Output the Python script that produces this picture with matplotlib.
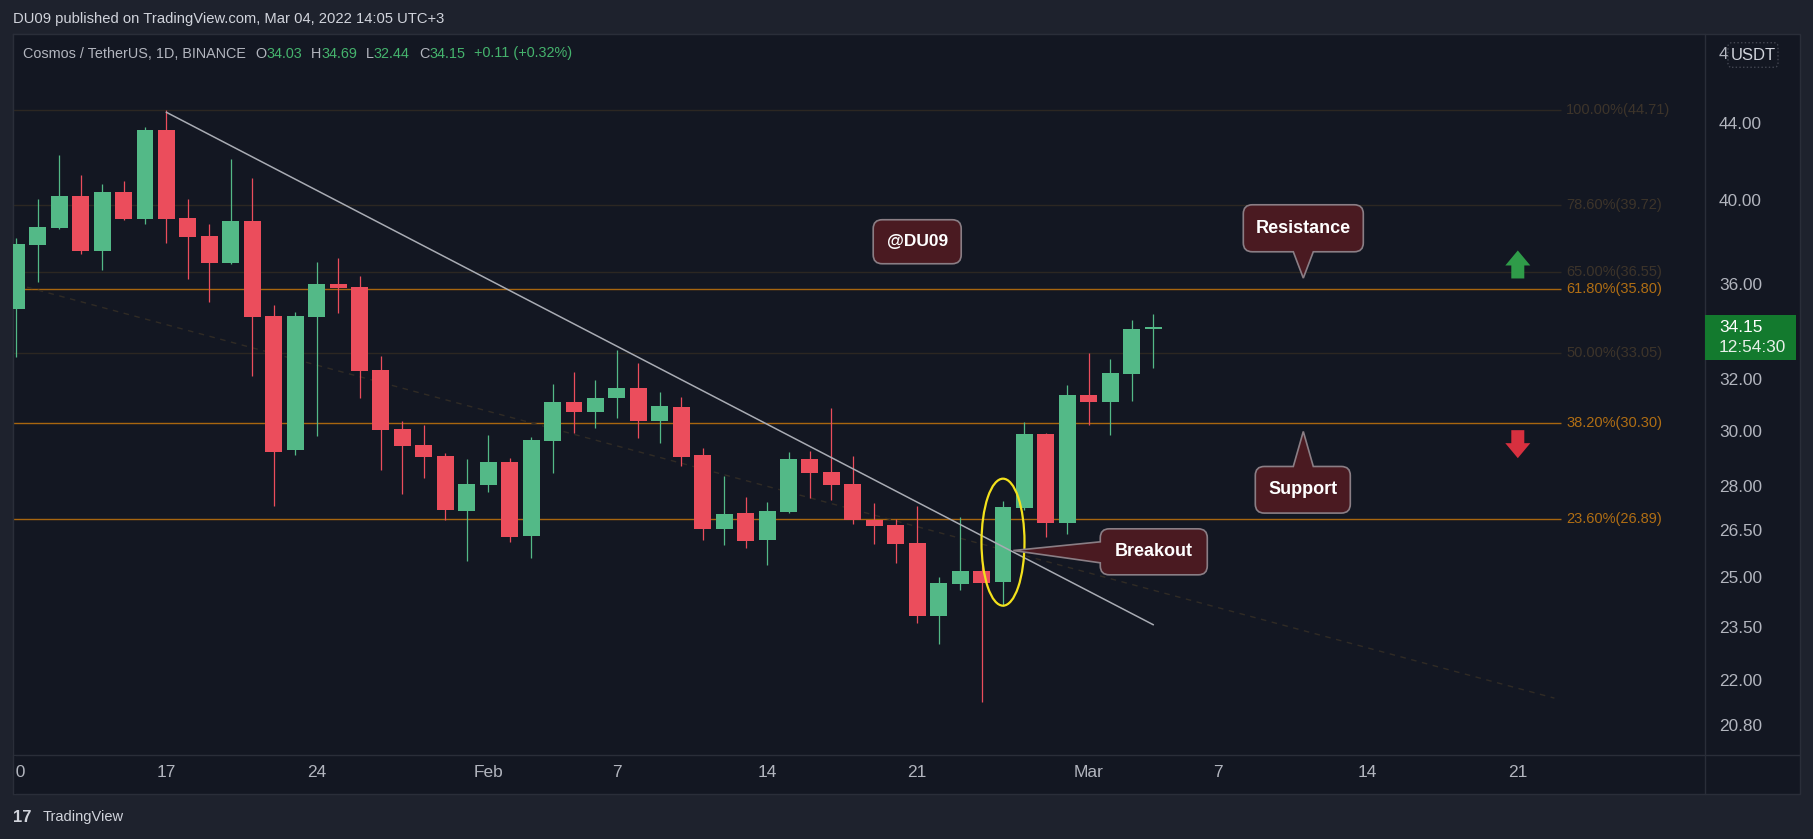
"""Cosmos / TetherUS daily candles with fib levels, trend line and callouts (TradingView style)."""
import matplotlib
matplotlib.use("Agg")
import matplotlib.pyplot as plt
import matplotlib.dates as mdates
from matplotlib.patches import Rectangle, Ellipse, Polygon, PathPatch, FancyBboxPatch
from matplotlib.path import Path
from matplotlib.transforms import IdentityTransform
from matplotlib.ticker import FuncFormatter, NullLocator
from matplotlib.lines import Line2D
import numpy as np
import pandas as pd

# ---- data ----
dates = pd.date_range("2022-01-10", "2022-03-04", freq="D")
opens = [34.92, 37.81, 38.62, 40.19, 37.53, 40.39, 39.06, 43.63, 39.11, 38.24,
         36.97, 38.95, 34.62, 29.27, 34.58, 36.02, 35.89, 32.36, 30.08, 29.47,
         29.07, 27.15, 28.04, 28.86, 26.31, 29.63, 31.10, 30.71, 31.25, 31.64,
         30.38, 30.91, 29.11, 26.55, 27.08, 26.19, 27.12, 28.97, 28.50, 28.08,
         26.85, 26.68, 26.09, 23.82, 24.79, 25.20, 24.85, 27.26, 29.88, 26.75,
         31.37, 31.10, 32.20, 34.03]
highs = [38.14, 40.04, 42.30, 41.26, 40.80, 40.95, 43.80, 44.71, 40.04, 38.82,
         42.09, 41.11, 35.10, 34.79, 37.02, 37.20, 36.38, 32.93, 30.38, 30.22,
         29.18, 28.97, 29.84, 29.01, 29.76, 31.80, 32.28, 31.96, 33.18, 32.65,
         31.48, 31.29, 29.37, 28.36, 27.63, 27.46, 29.22, 29.25, 30.86, 29.07,
         27.42, 26.88, 27.32, 25.01, 26.95, 25.54, 27.49, 30.33, 29.92, 31.76,
         33.05, 32.80, 34.44, 34.69]
lows = [32.90, 36.12, 38.57, 37.40, 36.66, 39.02, 38.82, 37.91, 36.25, 35.23,
        36.94, 32.13, 27.33, 29.12, 29.82, 34.74, 31.26, 28.58, 27.74, 28.30,
        26.85, 25.52, 27.80, 26.12, 25.61, 28.47, 29.92, 30.11, 30.48, 29.73,
        29.55, 28.72, 26.19, 26.02, 25.93, 25.38, 27.08, 27.59, 27.52, 26.72,
        26.06, 25.45, 23.61, 23.01, 24.61, 21.39, 24.12, 27.19, 26.28, 26.38,
        30.22, 29.84, 31.14, 32.44]
closes = [37.86, 38.67, 40.19, 37.53, 40.39, 39.06, 43.63, 39.06, 38.20, 36.97,
          38.95, 34.58, 29.23, 34.62, 36.02, 35.84, 32.32, 30.04, 29.45, 29.05,
          27.19, 28.08, 28.86, 26.28, 29.66, 31.10, 30.71, 31.25, 31.64, 30.38,
          30.95, 29.04, 26.55, 27.05, 26.15, 27.15, 28.97, 28.47, 28.04, 26.85,
          26.65, 26.06, 23.82, 24.82, 25.20, 24.82, 27.29, 29.88, 26.75, 31.37,
          31.10, 32.24, 34.06, 34.15]

fib_pcts = [100.0, 78.6, 65.0, 61.8, 50.0, 38.2, 23.6]
fib_prices = [44.71, 39.72, 36.55, 35.80, 33.05, 30.30, 26.89]
fib_hot = [False, False, False, True, False, True, True]
fib_end = pd.Timestamp("2022-03-23")

trend_dates = [pd.Timestamp("2022-01-17"), pd.Timestamp("2022-03-04")]
trend_prices = [44.60, 23.56]
chan_dates = [pd.Timestamp("2022-01-10"), pd.Timestamp("2022-03-22 17:00")]
chan_prices = [36.0, 21.50]

price_ticks = [20.8, 22.0, 23.5, 25.0, 26.5, 28.0, 30.0, 32.0, 36.0, 40.0, 44.0, 48.0]
tick_dates = pd.to_datetime(["2022-01-10", "2022-01-17", "2022-01-24", "2022-02-01",
                             "2022-02-07", "2022-02-14", "2022-02-21", "2022-03-01",
                             "2022-03-07", "2022-03-14", "2022-03-21"])
tick_labels = ["10", "17", "24", "Feb", "7", "14", "21", "Mar", "7", "14", "21"]

last_price = 34.15
countdown = "12:54:30"

# ---- style ----
W, H, DPI = 1813, 839, 100
OUTER = "#1e222d"
PANE = "#131722"
BORDER = "#2a2e39"
TXT = "#b2b5be"
GREEN = "#53b987"
RED = "#eb4d5c"
VAL = "#45b36d"
FIB_HOT = "#a8660f"
FIB_HOT_TXT = "#b06e14"
FIB_DIM = "#2c2722"
FIB_DIM_TXT = "#3d342a"
BOX_FACE = "#4a1a21"
BOX_EDGE = "#8a7e85"

plt.rcParams["font.family"] = ["Liberation Sans", "DejaVu Sans"]

fig = plt.figure(figsize=(W / DPI, H / DPI), dpi=DPI, facecolor=OUTER)


def fx(x):
    return x / W


def fy(y):
    return 1 - y / H


# chart frame (price pane + axes strips)
fig.add_artist(Rectangle((12.5, H - 794), 1787, 760, transform=IdentityTransform(),
                         facecolor=PANE, edgecolor=BORDER, lw=1, zorder=-1))

L, R, T, B = 13, 1705, 34, 755
ax = fig.add_axes([fx(L), fy(B), fx(R - L), (B - T) / H])
ax.set_facecolor(PANE)
for s in ax.spines.values():
    s.set_color(BORDER)
    s.set_linewidth(1)

x0 = mdates.date2num(dates[0])
day_px = 21.45
ax.set_xlim(x0 - (16.3 - L) / day_px, x0 + (R - 16.3) / day_px)
ax.set_yscale("log")
ax.set_ylim(20.03, 49.17)
ax.set_autoscale_on(False)

# fib levels
xs_left = ax.get_xlim()[0] - 1
for pct, p, hot in zip(fib_pcts, fib_prices, fib_hot):
    ax.hlines(p, xs_left, mdates.date2num(fib_end), color=FIB_HOT if hot else FIB_DIM,
              lw=1.0, zorder=1)
    ax.text(mdates.date2num(fib_end) + 0.25, p, f"{pct:.2f}%({p:.2f})",
            color=FIB_HOT_TXT if hot else FIB_DIM_TXT, fontsize=10.5,
            ha="left", va="center", zorder=2)

# dashed channel line and trend line
ax.plot(mdates.date2num(chan_dates), chan_prices, color="#302b25", lw=1.0,
        ls=(0, (4, 4)), zorder=1.5)
ax.plot(mdates.date2num(trend_dates), trend_prices, color="#a9acb4", lw=1.1, zorder=4)

# candles
xd = mdates.date2num(dates)
o, h, l, c = map(np.asarray, (opens, highs, lows, closes))
cols = np.where(c >= o, GREEN, RED)
ax.vlines(xd, l, h, colors=cols, lw=0.9, zorder=3)
lo = np.minimum(o, c)
hi = np.maximum(o, c)
ax.bar(xd, hi - lo, bottom=lo, width=0.79, color=cols, linewidth=0, zorder=3)


# axes ticks (the top label is mostly hidden behind the USDT badge, only "4" shows)
def price_fmt(v, _):
    return "4" if v >= 48 else f"{v:.2f}"


ax.yaxis.tick_right()
ax.set_yticks(price_ticks)
ax.yaxis.set_minor_locator(NullLocator())
ax.yaxis.set_major_formatter(FuncFormatter(price_fmt))
ax.tick_params(axis="y", which="both", length=0, pad=10, labelsize=12.4, labelcolor=TXT)
ax.set_xticks(mdates.date2num(tick_dates))
ax.set_xticklabels(tick_labels)
ax.tick_params(axis="x", length=0, pad=7, labelsize=12.5, labelcolor=TXT)


# ---- callouts ----
def px_of(d, p):
    return ax.transData.transform((mdates.date2num(pd.Timestamp(d)), p))


def callout_path(x0, y0, x1, y1, r, side=None, b0=0, b1=0, tip=None):
    verts, codes = [], []

    def mv(p):
        verts.append(p); codes.append(Path.MOVETO)

    def ln(p):
        verts.append(p); codes.append(Path.LINETO)

    def cv(cp, p):
        verts.extend([cp, p]); codes.extend([Path.CURVE3, Path.CURVE3])

    mv((x0 + r, y0))
    if side == "bottom":
        ln((b0, y0)); ln(tip); ln((b1, y0))
    ln((x1 - r, y0)); cv((x1, y0), (x1, y0 + r))
    ln((x1, y1 - r)); cv((x1, y1), (x1 - r, y1))
    if side == "top":
        ln((b1, y1)); ln(tip); ln((b0, y1))
    ln((x0 + r, y1)); cv((x0, y1), (x0, y1 - r))
    if side == "left":
        ln((x0, b1)); ln(tip); ln((x0, b0))
    ln((x0, y0 + r)); cv((x0, y0), (x0 + r, y0))
    verts.append((x0 + r, y0)); codes.append(Path.CLOSEPOLY)
    return Path(verts, codes)


def draw_box(path, text, cx, cy, size=13):
    fig.add_artist(PathPatch(path, transform=IdentityTransform(), facecolor=BOX_FACE,
                             edgecolor=BOX_EDGE, lw=1.2, zorder=6))
    fig.text(fx(cx), cy / H, text, color="white", fontsize=size, fontweight="bold",
             ha="center", va="center", zorder=7)


# Resistance (pointer down)
tx, ty = px_of("2022-03-11", 36.28)
bx0, bx1, by0, by1 = tx - 60, tx + 60, ty + 26.3, ty + 73.3
draw_box(callout_path(bx0, by0, bx1, by1, 9, "bottom", tx - 10, tx + 10, (tx, ty)),
         "Resistance", (bx0 + bx1) / 2, (by0 + by1) / 2)

# Support (pointer up)
tx, ty = px_of("2022-03-11", 29.97)
bx0, bx1, by0, by1 = tx - 48, tx + 47, ty - 81.6, ty - 35
draw_box(callout_path(bx0, by0, bx1, by1, 9, "top", tx - 10, tx + 10, (tx, ty)),
         "Support", (bx0 + bx1) / 2, (by0 + by1) / 2)

# Breakout (pointer left)
tx, ty = px_of("2022-02-25 11:30", 25.84)
bx0, bx1, by0, by1 = tx + 87, tx + 194, ty - 24.3, ty + 21.7
draw_box(callout_path(bx0, by0, bx1, by1, 9, "left", ty - 12.3, ty + 8.7, (tx, ty)),
         "Breakout", (bx0 + bx1) / 2, (by0 + by1) / 2)

# @DU09 tag
cx, cy = px_of("2022-02-21", 37.96)
draw_box(callout_path(cx - 44, cy - 22, cx + 44, cy + 22, 9), "@DU09", cx, cy, size=12.5)

# yellow ellipse around breakout candle
ex, ey = px_of("2022-02-25", 26.11)
ax.add_patch(Ellipse((ex, ey), 43, 127, transform=IdentityTransform(), fill=False,
                     ec="#f3e11c", lw=1.6, zorder=5))

# up / down arrows
gx, gy = px_of("2022-03-21", 36.9)
up = [(0, 14), (12.5, -1), (6.5, -1), (6.5, -14), (-6.5, -14), (-6.5, -1), (-12.5, -1)]
fig.add_artist(Polygon([(gx + a, gy + b) for a, b in up], closed=True,
                       transform=IdentityTransform(), facecolor="#2f9c49", lw=0, zorder=6))
rx, ry = px_of("2022-03-21", 29.5)
fig.add_artist(Polygon([(rx + a, ry - b) for a, b in up], closed=True,
                       transform=IdentityTransform(), facecolor="#d7303f", lw=0, zorder=6))

# ---- price axis extras ----
_, py = px_of(dates[-1], last_price)
fig.add_artist(Rectangle((1705, py - 33), 91, 45, transform=IdentityTransform(),
                         facecolor="#137a2e", lw=0, zorder=6))
fig.text(fx(1719), (py - 1) / H, f"{last_price:.2f}", color="white", fontsize=12.4,
         ha="left", va="center", zorder=7)
fig.text(fx(1719), (py - 21) / H, countdown, color="#e8f0ea", fontsize=12.4,
         ha="left", va="center", zorder=7)

fig.add_artist(FancyBboxPatch((1728, H - 67.3), 50, 24.6, boxstyle="round,pad=0,rounding_size=4",
                              transform=IdentityTransform(), facecolor=PANE,
                              edgecolor="#434651", lw=1, ls=":", zorder=8))
fig.text(fx(1753), fy(55.5), "USDT", color="#d1d4dc", fontsize=12, ha="center",
         va="center", zorder=9)

# separators in the axis strips
fig.add_artist(Line2D([1705, 1799], [H - 755, H - 755], transform=IdentityTransform(),
                      color=BORDER, lw=1, zorder=8))
fig.add_artist(Line2D([1705, 1705], [H - 794, H - 755], transform=IdentityTransform(),
                      color=BORDER, lw=1, zorder=8))
# the first date label is cut by the left edge of the chart: only its "0" shows
fig.add_artist(Rectangle((0, H - 800), 13, 60, transform=IdentityTransform(),
                         facecolor=OUTER, lw=0, zorder=8))
fig.add_artist(Rectangle((13, H - 793.5), 2.6, 38, transform=IdentityTransform(),
                         facecolor=PANE, lw=0, zorder=8))
fig.add_artist(Line2D([13, 13], [H - 794, H - 755], transform=IdentityTransform(),
                      color=BORDER, lw=1, zorder=9))

# ---- header / legend / footer ----
fig.text(fx(13.4), fy(19), "DU09 published on TradingView.com, Mar 04, 2022 14:05 UTC+3",
         color="#d1d4dc", fontsize=10.6, ha="left", va="center")

legend = [("Cosmos / TetherUS, 1D, BINANCE", TXT, 0),
          ("O", TXT, 9), (f"{opens[-1]:.2f}", VAL, 0),
          ("H", TXT, 9), (f"{highs[-1]:.2f}", VAL, 0),
          ("L", TXT, 9), (f"{lows[-1]:.2f}", VAL, 0),
          ("C", TXT, 9), (f"{closes[-1]:.2f}", VAL, 0),
          ("+0.11 (+0.32%)", VAL, 9)]
t = fig.text(fx(23.2), fy(53.5), legend[0][0], color=legend[0][1], fontsize=10.4,
             ha="left", va="center")
for s, col, gap in legend[1:]:
    t = ax.annotate(s, xy=(1, 0.5), xycoords=t, xytext=(gap, 0), textcoords="offset pixels",
                    color=col, fontsize=10.4, ha="left", va="center", annotation_clip=False)

fig.text(fx(13), fy(817), "17", color="#d1d4dc", fontsize=12, fontweight="heavy",
         ha="left", va="center")
fig.text(fx(43), fy(817), "TradingView", color="#d1d4dc", fontsize=10.5,
         ha="left", va="center")

fig.savefig("out.png", dpi=DPI, facecolor=OUTER)
